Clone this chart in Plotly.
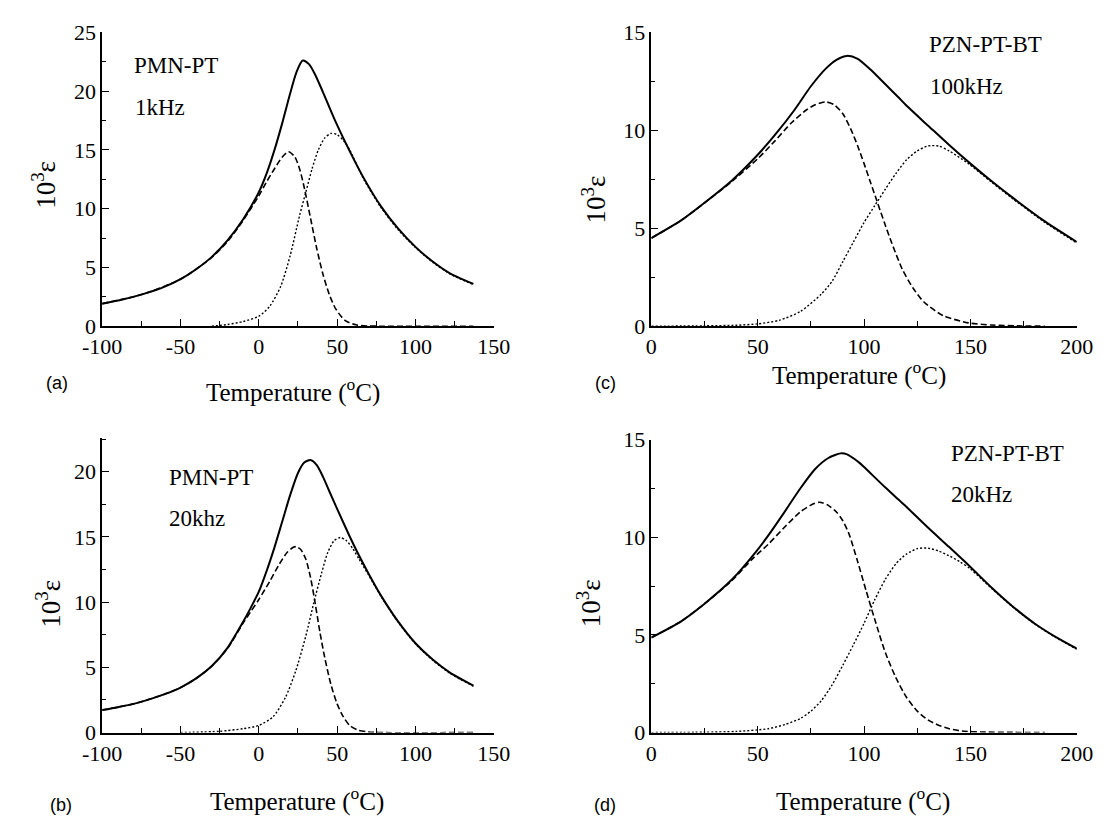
import plotly.graph_objects as go

W, H = 1117, 829

# ---------------- data ----------------
# Panel (a) PMN-PT 1kHz
a_solid_T = [-100, -87, -75, -60, -50, -40, -30, -20, -10, 0, 5, 10, 15, 20, 24, 28, 32, 36, 41, 49, 58, 67, 78, 89, 100, 111, 122, 137]
a_solid_y = [1.92, 2.28, 2.69, 3.37, 4.0, 4.85, 5.9, 7.3, 9.1, 11.4, 13.0, 15.0, 17.3, 19.8, 21.6, 22.6, 22.3, 21.4, 19.9, 17.4, 14.9, 12.6, 10.2, 8.3, 6.75, 5.5, 4.5, 3.6]
a_dash_T = [-100, -75, -50, -30, -20, -10, 0, 5, 10, 15, 19, 23, 26, 29, 33, 37, 41, 45, 49, 55, 62, 70, 80, 137]
a_dash_y = [1.92, 2.69, 4.0, 5.85, 7.2, 9.0, 11.1, 12.3, 13.4, 14.4, 14.85, 14.4, 13.4, 11.8, 9.2, 6.6, 4.4, 2.7, 1.5, 0.5, 0.12, 0.02, 0.0, 0.0]
a_dot_T = [-30, -20, -10, 0, 7, 14, 20, 26, 30, 34, 38, 42, 46, 50, 54, 58, 67, 78, 89, 100, 111, 122, 137]
a_dot_y = [0.0, 0.15, 0.4, 0.85, 1.7, 3.4, 6.0, 9.4, 11.4, 13.4, 15.0, 16.0, 16.4, 16.3, 15.8, 15.0, 12.5, 10.1, 8.2, 6.7, 5.45, 4.45, 3.55]

# Panel (b) PMN-PT 20khz
b_solid_T = [-100, -90, -80, -70, -60, -50, -40, -30, -20, -10, -5, 0, 5, 10, 15, 20, 25, 29, 33, 37, 41, 45, 50, 57, 63, 70, 78, 89, 100, 111, 122, 137]
b_solid_y = [1.73, 1.95, 2.2, 2.55, 2.95, 3.45, 4.15, 5.1, 6.5, 8.5, 9.6, 10.8, 12.4, 14.2, 16.2, 18.2, 19.9, 20.7, 20.9, 20.5, 19.6, 18.5, 17.15, 15.3, 13.8, 12.2, 10.5, 8.5, 6.85, 5.6, 4.6, 3.6]
b_dash_T = [-100, -90, -80, -70, -60, -50, -40, -30, -20, -10, -5, 0, 7, 13, 18, 22, 24, 27, 30, 33, 36, 39, 42, 46, 50, 54, 58, 63, 70, 80, 137]
b_dash_y = [1.73, 1.95, 2.2, 2.55, 2.95, 3.45, 4.15, 5.1, 6.45, 8.4, 9.3, 10.2, 11.6, 12.9, 13.8, 14.2, 14.25, 14.0, 13.3, 11.9, 9.9, 7.7, 5.8, 3.7, 2.2, 1.2, 0.55, 0.2, 0.05, 0.0, 0.0]
b_dot_T = [-50, -25, -10, 0, 9, 17, 23.5, 30, 35, 40, 44, 48, 52, 56, 60, 64, 70, 78, 89, 100, 111, 122, 137]
b_dot_y = [0.0, 0.1, 0.3, 0.55, 1.2, 2.7, 4.7, 7.4, 9.9, 12.2, 13.8, 14.7, 14.95, 14.7, 14.1, 13.3, 12.1, 10.45, 8.45, 6.8, 5.55, 4.55, 3.55]

# Panel (c) PZN-PT-BT 100kHz
c_solid_T = [0, 14, 25, 38, 50, 58, 67, 75, 82, 87, 92, 97, 103, 110, 116, 120, 130, 140, 150, 160, 170, 185, 200]
c_solid_y = [4.5, 5.4, 6.3, 7.45, 8.75, 9.75, 11.0, 12.25, 13.15, 13.6, 13.8, 13.65, 13.1, 12.35, 11.7, 11.25, 10.25, 9.25, 8.3, 7.4, 6.55, 5.35, 4.3]
c_dash_T = [0, 14, 25, 38, 50, 58, 66, 73, 77, 82, 86, 90, 94, 97, 100, 103, 106, 110, 113, 118, 123, 128, 137, 149, 160, 172, 185]
c_dash_y = [4.5, 5.4, 6.3, 7.4, 8.55, 9.45, 10.4, 11.05, 11.3, 11.45, 11.3, 10.85, 10.0, 9.2, 8.3, 7.35, 6.4, 5.15, 4.25, 2.9, 1.95, 1.25, 0.55, 0.17, 0.06, 0.02, 0.0]
c_dot_T = [0, 25, 40, 50, 60, 70, 80, 85, 90, 95, 100, 105, 110, 115, 120, 125, 130, 135, 140, 149, 160, 170, 185, 200]
c_dot_y = [0.0, 0.02, 0.05, 0.12, 0.3, 0.75, 1.65, 2.3, 3.3, 4.3, 5.3, 6.15, 7.0, 7.8, 8.5, 8.95, 9.2, 9.2, 8.95, 8.3, 7.35, 6.5, 5.3, 4.25]

# Panel (d) PZN-PT-BT 20kHz
d_solid_T = [0, 14, 25, 38, 48, 55, 62, 70, 77, 83, 89, 92, 95, 98, 100, 110, 116, 120, 130, 140, 150, 160, 170, 180, 190, 200]
d_solid_y = [4.87, 5.7, 6.6, 7.85, 9.1, 10.1, 11.2, 12.5, 13.5, 14.05, 14.3, 14.25, 14.05, 13.8, 13.6, 12.55, 11.95, 11.55, 10.5, 9.5, 8.48, 7.42, 6.45, 5.6, 4.9, 4.3]
d_dash_T = [0, 14, 25, 38, 48, 55, 62, 70, 75, 79, 83, 87, 90, 93, 97, 101, 105, 110, 115, 120, 125, 130, 135, 140, 146, 155, 170, 185]
d_dash_y = [4.87, 5.7, 6.6, 7.8, 8.95, 9.65, 10.45, 11.3, 11.65, 11.8, 11.65, 11.3, 10.85, 10.15, 8.75, 7.25, 5.8, 4.1, 2.8, 1.8, 1.1, 0.65, 0.38, 0.2, 0.08, 0.03, 0.01, 0.0]
d_dot_T = [0, 25, 40, 55, 63, 70, 75, 80, 85, 90, 95, 100, 105, 110, 115, 120, 125, 130, 135, 140, 145, 150, 160, 170, 180, 190, 200]
d_dot_y = [0.0, 0.02, 0.06, 0.2, 0.42, 0.72, 1.1, 1.65, 2.45, 3.45, 4.5, 5.6, 6.8, 7.85, 8.65, 9.15, 9.42, 9.45, 9.3, 9.05, 8.75, 8.38, 7.38, 6.42, 5.58, 4.88, 4.27]

# tick labels
pmn_xticks = [-100, -50, 0, 50, 100, 150]
pmn_xticktext = ["-100", "-50", "0", "50", "100", "150"]
pzn_xticks = [0, 50, 100, 150, 200]
pzn_xticktext = ["0", "50", "100", "150", "200"]

panel_letters = ["(a)", "(b)", "(c)", "(d)"]
materials = ["PMN-PT", "PMN-PT", "PZN-PT-BT", "PZN-PT-BT"]
freqs = ["1kHz", "20khz", "100kHz", "20kHz"]

# ---------------- figure ----------------
SERIF = "Liberation Serif, Times New Roman, serif"
SANS = "Liberation Sans, Arial, sans-serif"
fig = go.Figure()


def px(x):
    return x / W


def py(y):
    return 1 - y / H


panels = [
    dict(s=(a_solid_T, a_solid_y), d=(a_dash_T, a_dash_y), o=(a_dot_T, a_dot_y),
         box=(85, 490, 21, 324), xr=[-100, 150], yr=[0, 25], xt=(pmn_xticks, pmn_xticktext)),
    dict(s=(b_solid_T, b_solid_y), d=(b_dash_T, b_dash_y), o=(b_dot_T, b_dot_y),
         box=(85, 490, 439, 743), xr=[-100, 150], yr=[0, 22.6], xt=(pmn_xticks, pmn_xticktext)),
    dict(s=(c_solid_T, c_solid_y), d=(c_dash_T, c_dash_y), o=(c_dot_T, c_dot_y),
         box=(653, 1093, 21, 324), xr=[0, 200], yr=[0, 15], xt=(pzn_xticks, pzn_xticktext)),
    dict(s=(d_solid_T, d_solid_y), d=(d_dash_T, d_dash_y), o=(d_dot_T, d_dot_y),
         box=(653, 1093, 441, 743), xr=[0, 200], yr=[0, 15], xt=(pzn_xticks, pzn_xticktext)),
]

layout_axes = {}
for i, p in enumerate(panels):
    n = "" if i == 0 else str(i + 1)
    xa, ya = "x" + n, "y" + n
    for (T, Y), dash, wdt in [(p["o"], "2px,2px", 1.4), (p["d"], "6px,3px", 1.6), (p["s"], "solid", 2.0)]:
        fig.add_trace(go.Scatter(x=T, y=Y, mode="lines", xaxis=xa, yaxis=ya,
                                 line=dict(color="black", width=wdt, dash=dash, shape="spline", smoothing=0.7),
                                 showlegend=False, hoverinfo="skip"))
    x0, x1, yt, yb = p["box"]
    common = dict(showline=True, linecolor="black", linewidth=1.5, mirror=False,
                  showgrid=False, zeroline=False, ticks="inside", ticklen=7, tickwidth=1.2,
                  tickcolor="black", tickfont=dict(family=SERIF, size=22, color="black"))
    layout_axes["xaxis" + n] = dict(common, domain=[px(x0), px(x1)], range=p["xr"],
                                    anchor=ya, tickvals=p["xt"][0], ticktext=p["xt"][1],
                                    minor=dict(ticks="inside", dtick=25, ticklen=5, tickwidth=1, tickcolor="black"))
    layout_axes["yaxis" + n] = dict(common, domain=[py(yb), py(yt)], range=p["yr"],
                                    anchor=xa, dtick=5, tick0=0,
                                    minor=dict(ticks="inside", dtick=2.5, ticklen=4, tickwidth=1, tickcolor="black"))

fig.update_layout(**layout_axes)

ann = []


def text(x, y, t, size=23, family=SERIF, xanchor="left", angle=0):
    ann.append(dict(x=px(x), y=py(y), xref="paper", yref="paper", text=t, showarrow=False,
                    xanchor=xanchor, yanchor="middle", textangle=angle,
                    font=dict(family=family, size=size, color="black")))


# material / frequency labels
text(116, 55, materials[0]); text(117, 98, freqs[0])
text(152, 480, materials[1]); text(152, 522, freqs[1])
text(938, 33, materials[2]); text(939, 77, freqs[2])
text(961, 455, materials[3]); text(961, 498, freqs[3])

# axis titles
xt = "Temperature (<sup>o</sup>C)"
text(282, 390, xt, size=25, xanchor="center")
text(287, 812, xt, size=25, xanchor="center")
text(868, 373, xt, size=25, xanchor="center")
text(872, 812, xt, size=25, xanchor="center")
yt = "10<sup>3</sup>ε"
text(24, 178, yt, size=27, xanchor="center", angle=-90)
text(29, 610, yt, size=27, xanchor="center", angle=-90)
text(594, 193, yt, size=27, xanchor="center", angle=-90)
text(588, 610, yt, size=27, xanchor="center", angle=-90)

# panel letters
text(38, 383, panel_letters[0], size=18, family=SANS, xanchor="center")
text(42, 818, panel_letters[1], size=18, family=SANS, xanchor="center")
text(606, 383, panel_letters[2], size=18, family=SANS, xanchor="center")
text(605, 818, panel_letters[3], size=18, family=SANS, xanchor="center")

fig.update_layout(annotations=ann, width=W, height=H, margin=dict(l=0, r=0, t=0, b=0),
                  paper_bgcolor="white", plot_bgcolor="white")

fig.write_html("out.html", config={"displayModeBar": False},
               post_script="document.body.style.margin='0';document.body.style.overflow='hidden';")
